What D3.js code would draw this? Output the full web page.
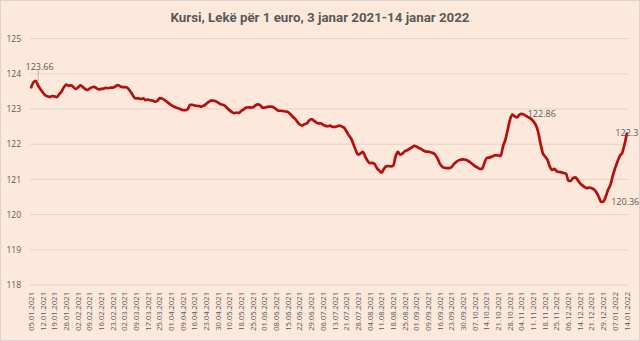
<!DOCTYPE html>
<html>
<head>
<meta charset="utf-8">
<script src="https://cdn.jsdelivr.net/npm/d3@7"></script>
<style>
  html, body { margin: 0; padding: 0; background: #fce9db; }
  svg { display: block; }
</style>
</head>
<body>
<svg id="chart" width="640" height="341"></svg>
<script>
// Weekly category labels (every 5th business day)
const tickLabels = [
  "05.01.2021","12.01.2021","19.01.2021","26.01.2021","02.02.2021","09.02.2021",
  "16.02.2021","23.02.2021","02.03.2021","09.03.2021","17.03.2021","25.03.2021",
  "01.04.2021","09.04.2021","16.04.2021","23.04.2021","30.04.2021","10.05.2021",
  "18.05.2021","25.05.2021","01.06.2021","08.06.2021","15.06.2021","22.06.2021",
  "29.06.2021","06.07.2021","13.07.2021","21.07.2021","28.07.2021","04.08.2021",
  "11.08.2021","18.08.2021","25.08.2021","01.09.2021","09.09.2021","16.09.2021",
  "23.09.2021","30.09.2021","07.10.2021","14.10.2021","21.10.2021","28.10.2021",
  "04.11.2021","11.11.2021","18.11.2021","25.11.2021","06.12.2021","14.12.2021",
  "21.12.2021","29.12.2021","07.01.2022","14.01.2022"
];
const labelStep = 5;

// Daily ALL per EUR rate, business days
const rates = [
  123.62,123.76,123.80,123.66,123.56,123.47,123.39,123.36,123.34,123.37,
  123.36,123.34,123.42,123.50,123.62,123.69,123.66,123.67,123.63,123.57,
  123.61,123.67,123.63,123.57,123.54,123.58,123.62,123.63,123.59,123.56,
  123.57,123.58,123.60,123.59,123.61,123.61,123.64,123.68,123.65,123.62,
  123.62,123.61,123.54,123.45,123.34,123.30,123.30,123.28,123.30,123.25,
  123.27,123.25,123.24,123.21,123.23,123.31,123.30,123.26,123.21,123.16,
  123.11,123.07,123.04,123.02,122.99,122.97,122.97,122.99,123.12,123.12,
  123.10,123.09,123.08,123.07,123.10,123.15,123.20,123.24,123.24,123.22,
  123.18,123.14,123.12,123.09,123.02,122.96,122.91,122.88,122.90,122.89,
  122.95,122.99,123.04,123.05,123.04,123.05,123.10,123.13,123.11,123.04,
  123.04,123.06,123.07,123.07,123.04,122.99,122.95,122.95,122.94,122.93,
  122.91,122.85,122.78,122.72,122.63,122.56,122.53,122.57,122.59,122.67,
  122.71,122.67,122.62,122.59,122.59,122.55,122.52,122.51,122.53,122.49,
  122.49,122.51,122.53,122.50,122.47,122.36,122.25,122.16,121.99,121.82,
  121.70,121.74,121.78,121.65,121.53,121.46,121.47,121.44,121.32,121.25,
  121.19,121.30,121.37,121.38,121.37,121.39,121.65,121.78,121.70,121.74,
  121.80,121.83,121.87,121.91,121.95,121.93,121.89,121.86,121.82,121.79,
  121.79,121.77,121.75,121.70,121.59,121.44,121.36,121.33,121.32,121.32,
  121.35,121.44,121.50,121.54,121.56,121.57,121.56,121.53,121.48,121.43,
  121.38,121.34,121.30,121.30,121.46,121.61,121.62,121.64,121.67,121.69,
  121.68,121.67,121.94,122.13,122.41,122.70,122.84,122.79,122.76,122.84,
  122.86,122.84,122.80,122.76,122.72,122.65,122.55,122.36,122.03,121.75,
  121.65,121.56,121.37,121.27,121.30,121.23,121.21,121.20,121.18,121.16,
  120.96,120.96,121.04,121.06,120.98,120.89,120.83,120.78,120.75,120.77,
  120.75,120.71,120.63,120.50,120.36,120.37,120.52,120.71,120.85,121.11,
  121.32,121.51,121.67,121.75,121.99,122.30
];

// Points that carry a value label
const labelledPoints = [3, 210, 244, 255];

const yTicks = [118, 119, 120, 121, 122, 123, 124, 125];

const W = 640, H = 341;
const plot = { left: 30, right: 628, top: 38.6, bottom: 285 };
const textColor = "#595959";
const fontFamily = "'Open Sans', 'Noto Sans', sans-serif";

const svg = d3.select("#chart");

// Chart area with thin border
svg.append("rect")
  .attr("x", 0.5).attr("y", 0.5)
  .attr("width", W - 1).attr("height", H - 1)
  .attr("fill", "#fce9db")
  .attr("stroke", "#dcd3cc");

const x = d3.scaleBand()
  .domain(d3.range(rates.length))
  .range([plot.left, plot.right]);

const y = d3.scaleLinear()
  .domain([118, 125])
  .range([plot.bottom, plot.top]);

const cx = i => x(i) + x.bandwidth() / 2;

// Horizontal gridlines
svg.append("g")
  .selectAll("line")
  .data(yTicks)
  .join("line")
  .attr("x1", plot.left).attr("x2", plot.right)
  .attr("y1", d => y(d)).attr("y2", d => y(d))
  .attr("stroke", "#e2d4c9")
  .attr("stroke-width", 1);

// Value axis labels
const yAxis = svg.append("g")
  .attr("transform", `translate(${plot.left},0)`)
  .call(d3.axisLeft(y).tickValues(yTicks).tickSize(0).tickPadding(9).tickFormat(d3.format("d")));
yAxis.select(".domain").remove();
yAxis.selectAll("text")
  .attr("fill", textColor)
  .style("font-family", fontFamily)
  .style("font-size", "8.5px");

// Category axis: rotated date labels
const xAxis = svg.append("g")
  .attr("transform", `translate(0,${plot.bottom})`)
  .call(d3.axisBottom(x)
    .tickValues(d3.range(0, rates.length, labelStep))
    .tickFormat(i => tickLabels[i / labelStep])
    .tickSize(0));
xAxis.select(".domain").remove();
xAxis.selectAll("text")
  .attr("transform", "rotate(-90)")
  .attr("x", -7)
  .attr("y", 0)
  .attr("dy", "0.35em")
  .style("text-anchor", "end")
  .attr("fill", textColor)
  .style("font-family", fontFamily)
  .style("font-size", "7.6px");

// Exchange-rate line
const line = d3.line()
  .x((d, i) => cx(i))
  .y(d => y(d))
  .curve(d3.curveMonotoneX);

svg.append("path")
  .datum(rates)
  .attr("d", line)
  .attr("fill", "none")
  .attr("stroke", "#b80d0d")
  .attr("stroke-width", 2.7)
  .attr("stroke-linejoin", "round")
  .attr("stroke-linecap", "round");

// Value labels
const fmt = v => String(+v.toFixed(2));
const labelStyle = sel => sel
  .attr("fill", textColor)
  .style("font-family", fontFamily)
  .style("font-size", "9px");

// First point: label lifted above with a leader line
{
  const i = labelledPoints[0];
  svg.append("line")
    .attr("x1", cx(i)).attr("x2", cx(i))
    .attr("y1", 70).attr("y2", y(rates[i]) - 3)
    .attr("stroke", "#a6a6a6").attr("stroke-width", 0.8);
  svg.append("text")
    .attr("x", 25.5).attr("y", 69.5)
    .text(fmt(rates[i]))
    .call(labelStyle);
}
// Peak in November: label to the right
{
  const i = labelledPoints[1];
  svg.append("text")
    .attr("x", cx(i) + 6).attr("y", y(rates[i]))
    .attr("dy", "0.35em")
    .text(fmt(rates[i]))
    .call(labelStyle);
}
// Low at year end: label to the right
{
  const i = labelledPoints[2];
  svg.append("text")
    .attr("x", cx(i) + 10).attr("y", y(rates[i]))
    .attr("dy", "0.35em")
    .text(fmt(rates[i]))
    .call(labelStyle);
}
// Last point: label centred on the point
{
  const i = labelledPoints[3];
  svg.append("text")
    .attr("x", cx(i)).attr("y", y(rates[i]) - 1)
    .attr("dy", "0.35em")
    .attr("text-anchor", "middle")
    .text(fmt(rates[i]))
    .call(labelStyle);
}

// Title
svg.append("text")
  .attr("x", W / 2).attr("y", 21.5)
  .attr("text-anchor", "middle")
  .attr("fill", textColor)
  .style("font-family", "Roboto, 'Open Sans', sans-serif")
  .style("font-weight", "700")
  .style("font-size", "13.3px")
  .text("Kursi, Lekë për 1 euro, 3 janar 2021-14 janar 2022");
</script>
</body>
</html>
